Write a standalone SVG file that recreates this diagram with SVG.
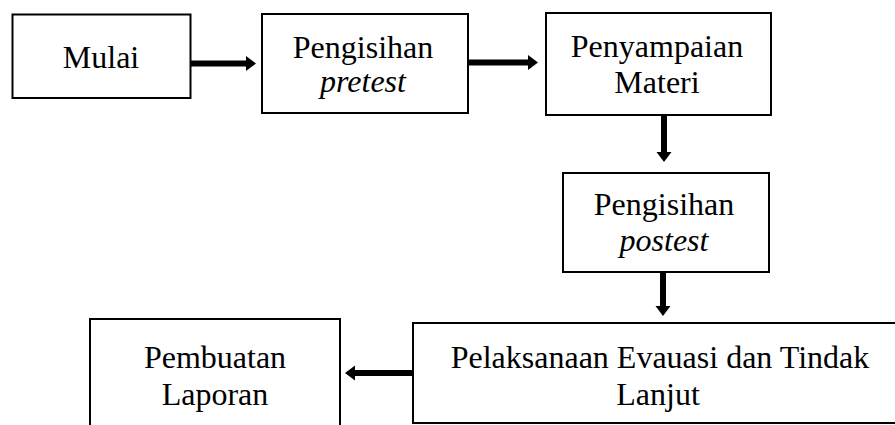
<svg xmlns="http://www.w3.org/2000/svg" width="895" height="425" viewBox="0 0 895 425">
<style>
.box{fill:#fff;stroke:#000;stroke-width:2}
.t{font-family:'Liberation Serif','Tinos','Times New Roman',Times,'DejaVu Serif',serif;font-size:32px;fill:#000;text-anchor:middle}
.i{font-style:italic}
.c{stroke:#000;stroke-width:6;fill:none;marker-end:url(#ah)}
</style>
<defs>
<marker id="ah" markerUnits="userSpaceOnUse" markerWidth="10" markerHeight="15" refX="0" refY="7.5" orient="auto" overflow="visible">
<path d="M0,0 L10,7.5 L0,15 Z" fill="#000"/>
</marker>
</defs>
<rect width="895" height="425" fill="#fff"/>
<g id="connectors">
<line class="c" x1="189" y1="63.5" x2="246" y2="63.5"/>
<line class="c" x1="468" y1="62.5" x2="528" y2="62.5"/>
<line class="c" x1="664" y1="115" x2="664" y2="152"/>
<line class="c" x1="663" y1="273" x2="663" y2="306"/>
<line class="c" x1="414" y1="373" x2="355" y2="373"/>
</g>
<g id="n1">
<rect class="box" x="12.5" y="14.5" width="178" height="83.5"/>
<text class="t" x="101" y="68">Mulai</text>
</g>
<g id="n2">
<rect class="box" x="262" y="14" width="206" height="99"/>
<text class="t" x="363" y="58">Pengisihan</text>
<text class="t i" x="363" y="92">pretest</text>
</g>
<g id="n3">
<rect class="box" x="546" y="13" width="225" height="102"/>
<text class="t" x="657" y="57">Penyampaian</text>
<text class="t" x="657" y="93">Materi</text>
</g>
<g id="n4">
<rect class="box" x="563" y="173" width="206" height="99"/>
<text class="t" x="664" y="215">Pengisihan</text>
<text class="t i" x="664" y="251">postest</text>
</g>
<g id="n5">
<rect class="box" x="413" y="323" width="490" height="100"/>
<text class="t" x="660" y="368">Pelaksanaan Evauasi dan Tindak</text>
<text class="t" x="658" y="405">Lanjut</text>
</g>
<g id="n6">
<rect class="box" x="90" y="319" width="250" height="120"/>
<text class="t" x="215" y="368">Pembuatan</text>
<text class="t" x="215" y="405">Laporan</text>
</g>
</svg>
